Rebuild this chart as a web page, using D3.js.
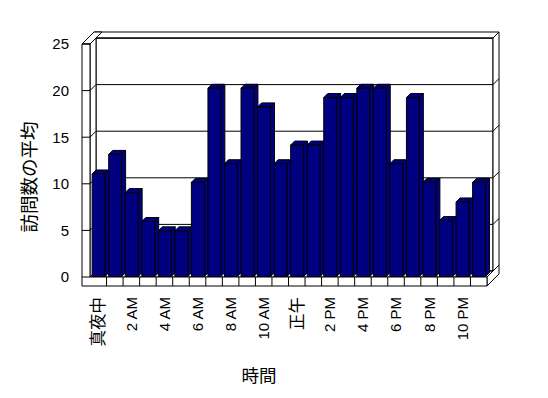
<!DOCTYPE html>
<html>
<head>
<meta charset="utf-8">
<script src="https://cdn.jsdelivr.net/npm/d3@7"></script>
<style>
  body { margin: 0; background: #fff; }
  text { font-family: 'Liberation Sans', Arial, 'Noto Sans CJK JP', sans-serif; }
</style>
</head>
<body>
<div id="chart"></div>
<script>
// data
const hours = d3.range(24)
const hourLabels = ['真夜中', '', '2 AM', '', '4 AM', '', '6 AM', '', '8 AM', '', '10 AM', '',
  '正午', '', '2 PM', '', '4 PM', '', '6 PM', '', '8 PM', '', '10 PM', '']
const visits = [11, 13.1, 9, 5.9, 4.9, 4.9, 10.1, 20.2, 12.1, 20.2, 18.2, 12.1,
  14.1, 14.1, 19.2, 19.2, 20.2, 20.2, 12.1, 19.2, 10.1, 6, 8, 10.1]
const yTicks = [0, 5, 10, 15, 20, 25]

const width = 548
const height = 398

var svg = d3
  .select('#chart')
  .append('svg')
  .attr('width', width)
  .attr('height', height)

// front plane of the plot
const x0 = 90
const x1 = 487
const wall = 8 // left wall thickness
const floorH = 9 // floor thickness
const depth = 6 // plot depth (px, diagonal)
const backT = 6 // back wall thickness

var xPositionScale = d3.scaleBand().domain(hours).range([x0, x1])
var yPositionScale = d3.scaleLinear().domain([0, 25]).range([277, 44])

// oblique projection: depth goes up and to the right
function P(x, y, z) {
  return [x + z, y - z]
}
function poly(pts) {
  return pts.map(p => p.join(',')).join(' ')
}
function face(pts, fill) {
  svg
    .append('polygon')
    .attr('points', poly(pts))
    .attr('fill', fill)
    .attr('stroke', 'black')
    .attr('stroke-width', 1)
    .attr('stroke-linejoin', 'miter')
}
function line(a, b) {
  svg
    .append('line')
    .attr('x1', a[0])
    .attr('y1', a[1])
    .attr('x2', b[0])
    .attr('y2', b[1])
    .attr('stroke', 'black')
    .attr('stroke-width', 1)
}

const yTop = yPositionScale(25)
const yBase = yPositionScale(0)
const zb = depth + backT

// back wall: front face, top, right side
face([P(x0, yTop, depth), P(x1, yTop, depth), P(x1, yBase, depth), P(x0, yBase, depth)], 'white')
face([P(x0 - wall, yTop, depth), P(x1, yTop, depth), P(x1, yTop, zb), P(x0 - wall, yTop, zb)], 'white')
face([P(x1, yTop, depth), P(x1, yTop, zb), P(x1, yBase, zb), P(x1, yBase, depth)], 'white')

// left wall inner face and top
face([P(x0, yTop, 0), P(x0, yTop, depth), P(x0, yBase, depth), P(x0, yBase, 0)], 'white')
face([P(x0 - wall, yTop, 0), P(x0, yTop, 0), P(x0, yTop, zb), P(x0 - wall, yTop, zb)], 'white')

// floor top and right side
face([P(x0, yBase, 0), P(x1, yBase, 0), P(x1, yBase, depth), P(x0, yBase, depth)], 'white')
face([P(x1, yBase, 0), P(x1, yBase, zb), P(x1, yBase + floorH, zb), P(x1, yBase + floorH, 0)], 'white')

// front faces of left wall + floor (one L shape)
face([
  [x0 - wall, yTop], [x0, yTop], [x0, yBase], [x1, yBase],
  [x1, yBase + floorH], [x0 - wall, yBase + floorH]
], 'white')

// gridlines over the walls
yTicks.forEach(function(t) {
  const y = yPositionScale(t)
  line([x0 - wall, y], [x0, y])
  line(P(x0, y, 0), P(x0, y, depth))
  line(P(x0, y, depth), P(x1, y, depth))
  line(P(x1, y, depth), P(x1, y, zb))
})

// category ticks on the floor front
hours.forEach(function(h) {
  if (h === 0) return
  const x = xPositionScale(h)
  line([x, yBase], [x, yBase + floorH])
})

// bars, drawn left to right
const bw = xPositionScale.bandwidth()
const bz0 = 0.5
const bz1 = 4.5
const navy = '#000080'

hours.forEach(function(h, i) {
  const left = xPositionScale(h) + bw * 0.1
  const right = left + bw * 0.78
  const top = yPositionScale(visits[i])
  const bottom = yBase
  // top face
  face([P(left, top, bz0), P(right, top, bz0), P(right, top, bz1), P(left, top, bz1)], navy)
  // right side
  face([P(right, top, bz0), P(right, top, bz1), P(right, bottom, bz1), P(right, bottom, bz0)], navy)
  // front
  face([P(left, top, bz0), P(right, top, bz0), P(right, bottom, bz0), P(left, bottom, bz0)], navy)
})

// y axis labels
svg
  .selectAll('.y-label')
  .data(yTicks)
  .enter()
  .append('text')
  .attr('class', 'y-label')
  .attr('x', 69)
  .attr('y', d => yPositionScale(d))
  .attr('dy', '0.36em')
  .attr('text-anchor', 'end')
  .attr('font-size', 15)
  .text(d => d)

// x axis labels, rotated
svg
  .selectAll('.x-label')
  .data(hours.filter(h => hourLabels[h] !== ''))
  .enter()
  .append('text')
  .attr('class', 'x-label')
  .attr('transform', function(h) {
    const cx = xPositionScale(h) + bw / 2
    return 'translate(' + cx + ',297) rotate(-90)'
  })
  .attr('dy', '0.36em')
  .attr('text-anchor', 'end')
  .attr('font-size', function(h) {
    return /[^\x00-\x7f]/.test(hourLabels[h]) ? 16.5 : 15
  })
  .text(h => hourLabels[h])

// axis titles
svg
  .append('text')
  .attr('x', 259)
  .attr('y', 376)
  .attr('dy', '0.36em')
  .attr('text-anchor', 'middle')
  .attr('font-size', 17.5)
  .text('時間')

svg
  .append('text')
  .attr('transform', 'translate(29,177) rotate(-90)')
  .attr('dy', '0.36em')
  .attr('text-anchor', 'middle')
  .attr('font-size', 18.5)
  .text('訪問数の平均')
</script>
</body>
</html>
